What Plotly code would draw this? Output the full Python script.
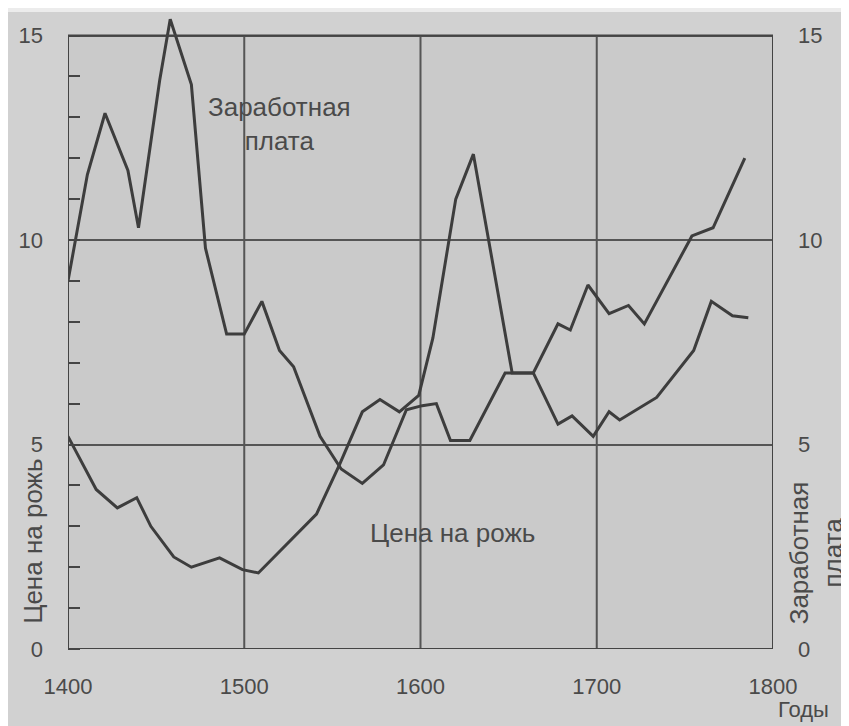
import plotly.graph_objects as go

# ---- data ----
wage_years = [1400, 1411, 1421, 1434, 1440, 1452, 1458, 1470, 1478, 1490, 1500, 1510,
              1520, 1528, 1543, 1555, 1567, 1579, 1592, 1601, 1609, 1617, 1628, 1648,
              1664, 1678, 1686, 1698, 1707, 1713, 1734, 1755, 1765, 1777, 1786]
wage_vals = [9.0, 11.6, 13.1, 11.7, 10.3, 13.9, 15.4, 13.8, 9.8, 7.7, 7.7, 8.5,
             7.3, 6.9, 5.2, 4.4, 4.05, 4.5, 5.85, 5.95, 6.0, 5.1, 5.1, 6.75,
             6.75, 5.5, 5.7, 5.2, 5.8, 5.6, 6.15, 7.3, 8.5, 8.15, 8.1]

rye_years = [1400, 1416, 1428, 1439, 1447, 1460, 1470, 1486, 1499, 1508, 1541, 1554,
             1567, 1577, 1588, 1599, 1607, 1620, 1630, 1652, 1664, 1678, 1685, 1695,
             1707, 1718, 1727, 1754, 1766, 1784]
rye_vals = [5.2, 3.9, 3.45, 3.7, 3.0, 2.25, 2.0, 2.23, 1.94, 1.86, 3.3, 4.5,
            5.8, 6.1, 5.8, 6.2, 7.6, 11.0, 12.1, 6.75, 6.75, 7.95, 7.8, 8.9,
            8.2, 8.4, 7.95, 10.1, 10.3, 12.0]

x_ticks = [1400, 1500, 1600, 1700, 1800]
y_ticks = [0, 5, 10, 15]
x_grid = [1500, 1600, 1700]

wage_label = "Заработная<br>плата"
rye_label = "Цена на рожь"
left_title = "Цена на рожь"
right_title = "Заработная<br>плата"
x_title = "Годы"

# ---- style ----
LINE = "#3d3d3d"
GRID = "#555555"
TEXT = "#4a4a4a"
FONT = "Liberation Sans"
X0, X1 = x_ticks[0], x_ticks[-1]
Y0, Y1 = y_ticks[0], y_ticks[-1]

fig = go.Figure()
fig.add_trace(go.Scatter(x=wage_years, y=wage_vals, mode="lines", name="Заработная плата",
                         line=dict(color=LINE, width=3)))
fig.add_trace(go.Scatter(x=rye_years, y=rye_vals, mode="lines", name="Цена на рожь",
                         line=dict(color=LINE, width=3)))
# invisible trace to activate right axis
fig.add_trace(go.Scatter(x=[X0], y=[Y0], yaxis="y2", mode="lines", showlegend=False,
                         hoverinfo="skip", line=dict(width=0)))

shapes = [
    # light band at the very top of the scan
    dict(type="rect", xref="paper", yref="paper", x0=-0.2, x1=1.2, y0=0.9985, y1=1.03,
         fillcolor="#ececec", line=dict(width=0), layer="below"),
    # frame fill
    dict(type="rect", xref="x", yref="y", x0=X0, x1=X1, y0=Y0, y1=Y1,
         fillcolor="#cacaca", line=dict(width=0), layer="below"),
]
for gx in x_grid:
    shapes.append(dict(type="line", xref="x", yref="y", x0=gx, x1=gx, y0=Y0, y1=Y1,
                       line=dict(color=GRID, width=2), layer="below"))
# frame
shapes.append(dict(type="rect", xref="x", yref="y", x0=X0, x1=X1, y0=Y0, y1=Y1,
                   line=dict(color="#444444", width=2), layer="above"))

def ann(x, y, text, size=26, ref="data", angle=0, xa="center", ya="middle"):
    return dict(x=x, y=y, xref="x" if ref == "data" else "paper",
                yref="y" if ref == "data" else "paper", text=text, showarrow=False,
                textangle=angle, xanchor=xa, yanchor=ya, align="center",
                font=dict(family=FONT, size=size, color=TEXT))

annotations = [
    ann(1520, 12.84, wage_label),
    ann(1618, 2.84, rye_label),
    ann(-0.0496, 0.168, left_title, ref="paper", angle=-90),
    ann(1.061, 0.150, right_title, ref="paper", angle=-90),
    ann(1.0426, -0.118, x_title, size=22, ref="paper", ya="bottom"),
]

fig.update_layout(
    width=841, height=718,
    margin=dict(l=60, r=76, t=3, b=77),
    paper_bgcolor="#d1d1d1",
    plot_bgcolor="rgba(0,0,0,0)",
    showlegend=False,
    font=dict(family=FONT, color=TEXT),
    shapes=shapes,
    annotations=annotations,
    xaxis=dict(range=[X0, X1], tickvals=x_ticks, ticktext=[str(v) for v in x_ticks],
               showgrid=False, zeroline=False, showline=False, ticks="",
               ticklabelstandoff=22, tickfont=dict(family=FONT, size=22, color=TEXT)),
    yaxis=dict(range=[0, 15.6], tickvals=y_ticks, ticktext=[str(v) for v in y_ticks],
               showgrid=True, gridcolor=GRID, gridwidth=2, zeroline=False, showline=False,
               ticks="", ticklabelstandoff=24,
               minor=dict(dtick=1, tick0=0, ticks="inside", ticklen=12, tickwidth=2,
                          tickcolor="#444444", showgrid=False),
               tickfont=dict(family=FONT, size=22, color=TEXT)),
    yaxis2=dict(range=[0, 15.6], overlaying="y", side="right", tickvals=y_ticks,
                ticktext=[str(v) for v in y_ticks], showgrid=False, zeroline=False,
                showline=False, ticks="", ticklabelstandoff=24,
                tickfont=dict(family=FONT, size=22, color=TEXT)),
)

fig.write_html("out.html")
